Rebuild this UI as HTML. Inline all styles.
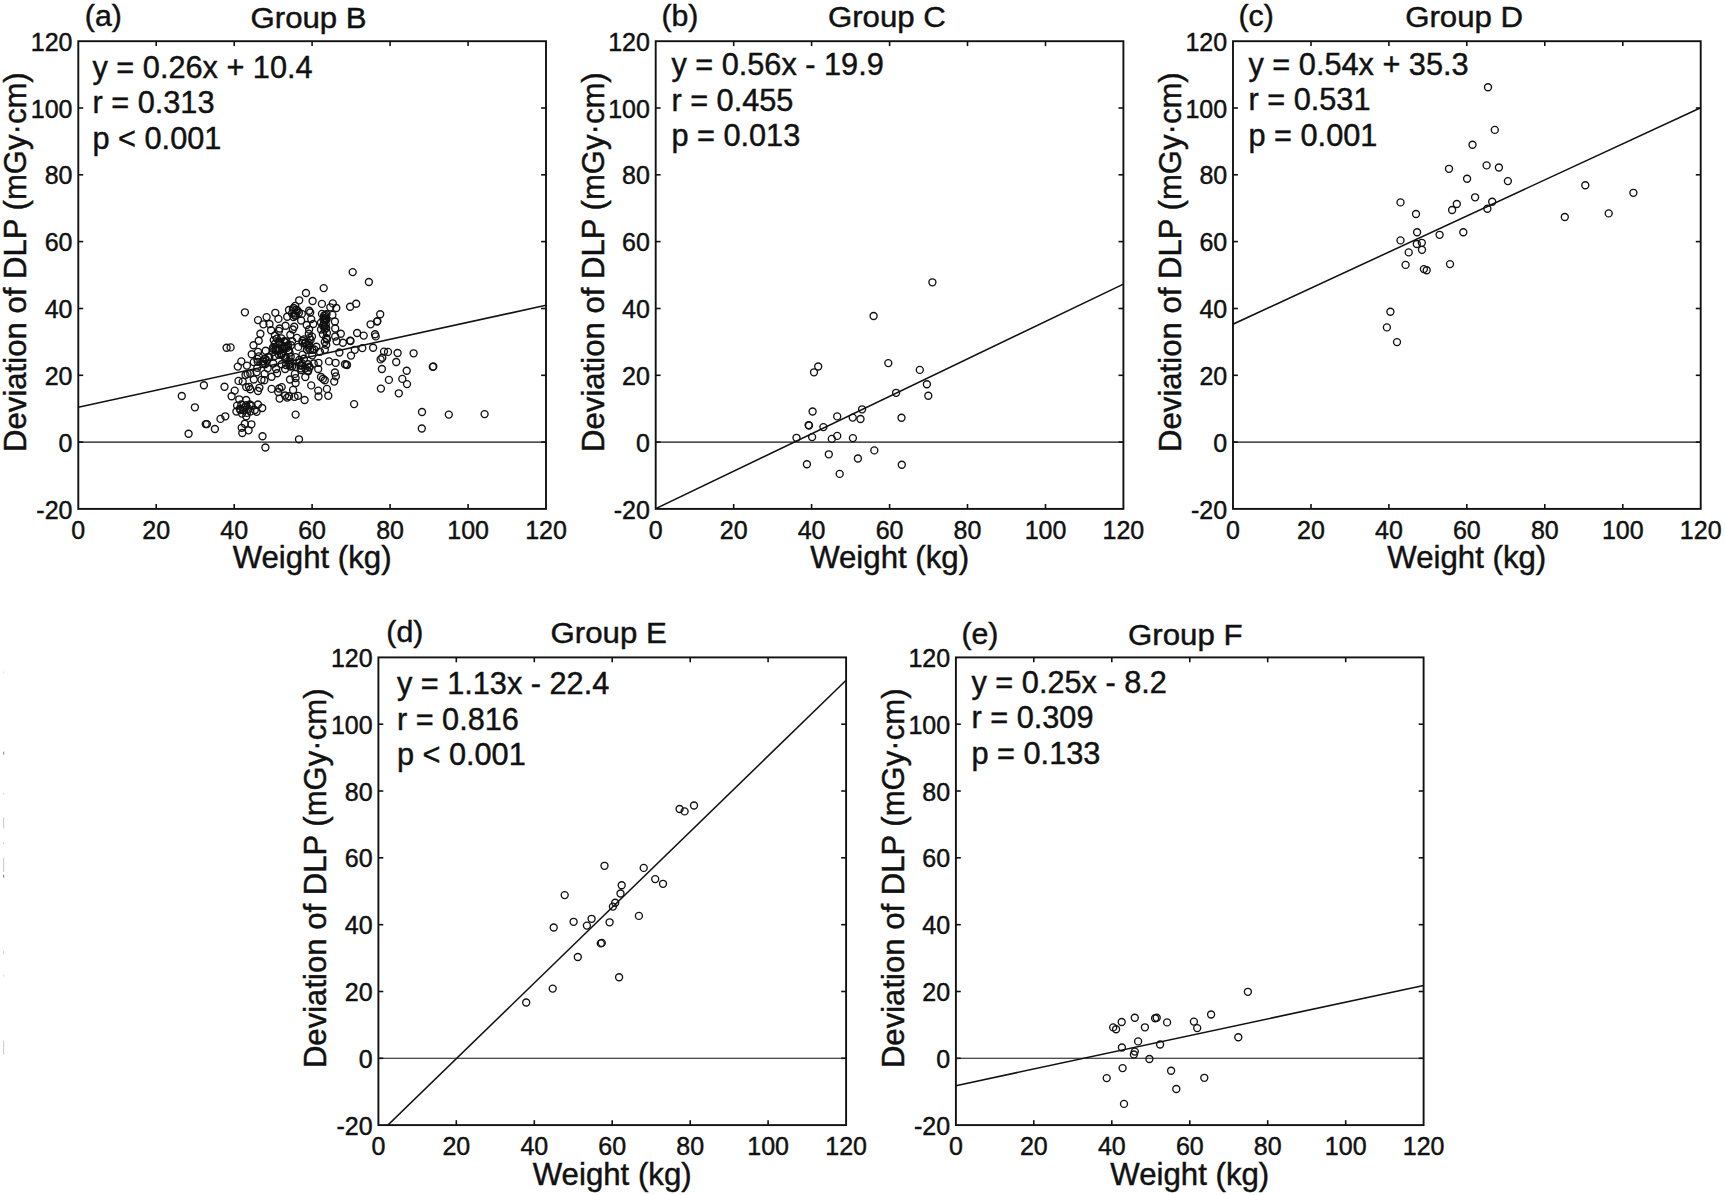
<!DOCTYPE html>
<html><head><meta charset="utf-8"><title>Deviation of DLP vs Weight</title>
<style>
html,body{margin:0;padding:0;background:#fff;}
svg{display:block;}
text{font-family:"Liberation Sans",sans-serif;fill:#111;stroke:#111;stroke-width:0.45px;}
.tk{font-size:25px;}
.lb{font-size:31.2px;}
.an{font-size:30.7px;}
.yl{font-size:30.5px;}
.ti{font-size:30px;}
.pl{font-size:30.3px;}
.bx{fill:none;stroke:#111;stroke-width:1.9;}
.t{stroke:#111;stroke-width:1.6;}
.z{stroke:#111;stroke-width:1.1;}
.r{stroke:#111;stroke-width:1.55;}
.p circle{fill:none;stroke:#111;stroke-width:1.35;}
</style></head><body>
<svg width="1725" height="1195" viewBox="0 0 1725 1195">
<rect width="1725" height="1195" fill="#fff"/>

<g id="panel-a">
<clipPath id="cpa"><rect x="78.3" y="41.2" width="467.7" height="467.7"/></clipPath>
<line class="z" x1="78.3" y1="442.1" x2="546.0" y2="442.1"/>
<line class="r" clip-path="url(#cpa)" x1="78.3" y1="407.3" x2="546.0" y2="305.3"/>
<g class="p">
<circle cx="181.8" cy="396.0" r="3.5"/>
<circle cx="194.9" cy="407.3" r="3.5"/>
<circle cx="188.6" cy="433.7" r="3.5"/>
<circle cx="203.9" cy="385.2" r="3.5"/>
<circle cx="224.5" cy="386.7" r="3.5"/>
<circle cx="205.7" cy="424.1" r="3.5"/>
<circle cx="206.9" cy="424.1" r="3.5"/>
<circle cx="214.9" cy="429.0" r="3.5"/>
<circle cx="220.5" cy="418.9" r="3.5"/>
<circle cx="225.3" cy="416.3" r="3.5"/>
<circle cx="265.4" cy="447.5" r="3.5"/>
<circle cx="354.1" cy="404.1" r="3.5"/>
<circle cx="226.6" cy="347.7" r="3.5"/>
<circle cx="352.7" cy="272.1" r="3.5"/>
<circle cx="368.9" cy="282.0" r="3.5"/>
<circle cx="350.1" cy="306.7" r="3.5"/>
<circle cx="356.2" cy="303.7" r="3.5"/>
<circle cx="380.2" cy="314.2" r="3.5"/>
<circle cx="377.1" cy="321.6" r="3.5"/>
<circle cx="377.4" cy="321.1" r="3.5"/>
<circle cx="370.6" cy="324.3" r="3.5"/>
<circle cx="357.1" cy="333.0" r="3.5"/>
<circle cx="363.7" cy="335.6" r="3.5"/>
<circle cx="375.0" cy="334.2" r="3.5"/>
<circle cx="375.7" cy="336.4" r="3.5"/>
<circle cx="350.1" cy="340.6" r="3.5"/>
<circle cx="350.5" cy="341.0" r="3.5"/>
<circle cx="362.3" cy="348.1" r="3.5"/>
<circle cx="373.1" cy="347.7" r="3.5"/>
<circle cx="354.8" cy="349.8" r="3.5"/>
<circle cx="351.0" cy="355.6" r="3.5"/>
<circle cx="346.6" cy="364.6" r="3.5"/>
<circle cx="347.0" cy="365.0" r="3.5"/>
<circle cx="384.0" cy="351.6" r="3.5"/>
<circle cx="388.0" cy="351.9" r="3.5"/>
<circle cx="397.6" cy="353.0" r="3.5"/>
<circle cx="413.6" cy="353.3" r="3.5"/>
<circle cx="380.6" cy="359.4" r="3.5"/>
<circle cx="382.3" cy="357.7" r="3.5"/>
<circle cx="396.2" cy="362.0" r="3.5"/>
<circle cx="381.9" cy="369.0" r="3.5"/>
<circle cx="406.7" cy="370.7" r="3.5"/>
<circle cx="388.9" cy="379.9" r="3.5"/>
<circle cx="402.3" cy="378.9" r="3.5"/>
<circle cx="407.0" cy="384.1" r="3.5"/>
<circle cx="380.9" cy="388.6" r="3.5"/>
<circle cx="398.8" cy="393.3" r="3.5"/>
<circle cx="432.8" cy="366.9" r="3.5"/>
<circle cx="433.3" cy="366.5" r="3.5"/>
<circle cx="422.0" cy="412.0" r="3.5"/>
<circle cx="448.8" cy="414.6" r="3.5"/>
<circle cx="421.8" cy="428.5" r="3.5"/>
<circle cx="323.7" cy="288.1" r="3.5"/>
<circle cx="306.0" cy="293.0" r="3.5"/>
<circle cx="299.2" cy="300.3" r="3.5"/>
<circle cx="312.6" cy="301.0" r="3.5"/>
<circle cx="321.9" cy="303.9" r="3.5"/>
<circle cx="332.8" cy="303.4" r="3.5"/>
<circle cx="330.3" cy="307.3" r="3.5"/>
<circle cx="336.3" cy="308.0" r="3.5"/>
<circle cx="244.9" cy="312.3" r="3.5"/>
<circle cx="295.2" cy="305.9" r="3.5"/>
<circle cx="289.0" cy="310.0" r="3.5"/>
<circle cx="296.3" cy="309.7" r="3.5"/>
<circle cx="297.7" cy="310.7" r="3.5"/>
<circle cx="309.1" cy="310.7" r="3.5"/>
<circle cx="310.2" cy="312.5" r="3.5"/>
<circle cx="275.3" cy="312.8" r="3.5"/>
<circle cx="322.0" cy="313.9" r="3.5"/>
<circle cx="326.5" cy="314.2" r="3.5"/>
<circle cx="332.4" cy="314.9" r="3.5"/>
<circle cx="266.6" cy="317.1" r="3.5"/>
<circle cx="278.4" cy="318.9" r="3.5"/>
<circle cx="287.2" cy="316.7" r="3.5"/>
<circle cx="294.9" cy="315.6" r="3.5"/>
<circle cx="293.5" cy="317.0" r="3.5"/>
<circle cx="301.8" cy="313.9" r="3.5"/>
<circle cx="301.1" cy="320.5" r="3.5"/>
<circle cx="311.2" cy="319.1" r="3.5"/>
<circle cx="324.8" cy="319.1" r="3.5"/>
<circle cx="326.2" cy="319.8" r="3.5"/>
<circle cx="334.9" cy="321.5" r="3.5"/>
<circle cx="258.0" cy="320.1" r="3.5"/>
<circle cx="263.4" cy="324.3" r="3.5"/>
<circle cx="269.5" cy="324.0" r="3.5"/>
<circle cx="285.5" cy="325.7" r="3.5"/>
<circle cx="279.6" cy="328.5" r="3.5"/>
<circle cx="278.9" cy="330.9" r="3.5"/>
<circle cx="294.2" cy="326.7" r="3.5"/>
<circle cx="292.8" cy="329.5" r="3.5"/>
<circle cx="306.7" cy="325.0" r="3.5"/>
<circle cx="313.3" cy="324.0" r="3.5"/>
<circle cx="309.1" cy="329.5" r="3.5"/>
<circle cx="321.0" cy="322.6" r="3.5"/>
<circle cx="325.8" cy="324.7" r="3.5"/>
<circle cx="326.2" cy="328.1" r="3.5"/>
<circle cx="335.2" cy="328.5" r="3.5"/>
<circle cx="321.0" cy="329.5" r="3.5"/>
<circle cx="271.1" cy="330.2" r="3.5"/>
<circle cx="260.4" cy="333.7" r="3.5"/>
<circle cx="290.3" cy="334.7" r="3.5"/>
<circle cx="297.0" cy="337.9" r="3.5"/>
<circle cx="276.8" cy="338.6" r="3.5"/>
<circle cx="308.8" cy="333.7" r="3.5"/>
<circle cx="309.5" cy="337.9" r="3.5"/>
<circle cx="326.9" cy="333.0" r="3.5"/>
<circle cx="326.2" cy="337.9" r="3.5"/>
<circle cx="335.2" cy="336.5" r="3.5"/>
<circle cx="340.8" cy="333.7" r="3.5"/>
<circle cx="258.7" cy="340.7" r="3.5"/>
<circle cx="253.5" cy="345.2" r="3.5"/>
<circle cx="284.4" cy="342.0" r="3.5"/>
<circle cx="292.1" cy="341.3" r="3.5"/>
<circle cx="302.5" cy="340.7" r="3.5"/>
<circle cx="308.8" cy="342.7" r="3.5"/>
<circle cx="324.8" cy="342.0" r="3.5"/>
<circle cx="326.2" cy="344.8" r="3.5"/>
<circle cx="336.6" cy="341.3" r="3.5"/>
<circle cx="342.9" cy="342.7" r="3.5"/>
<circle cx="265.7" cy="350.7" r="3.5"/>
<circle cx="258.0" cy="351.8" r="3.5"/>
<circle cx="251.7" cy="354.2" r="3.5"/>
<circle cx="276.1" cy="349.0" r="3.5"/>
<circle cx="283.7" cy="347.6" r="3.5"/>
<circle cx="288.6" cy="350.4" r="3.5"/>
<circle cx="298.3" cy="346.9" r="3.5"/>
<circle cx="308.1" cy="347.6" r="3.5"/>
<circle cx="312.3" cy="349.7" r="3.5"/>
<circle cx="319.9" cy="351.8" r="3.5"/>
<circle cx="324.8" cy="349.7" r="3.5"/>
<circle cx="339.4" cy="352.5" r="3.5"/>
<circle cx="265.0" cy="358.7" r="3.5"/>
<circle cx="274.7" cy="356.0" r="3.5"/>
<circle cx="281.7" cy="354.6" r="3.5"/>
<circle cx="285.1" cy="358.0" r="3.5"/>
<circle cx="290.7" cy="356.7" r="3.5"/>
<circle cx="302.5" cy="354.6" r="3.5"/>
<circle cx="303.9" cy="358.7" r="3.5"/>
<circle cx="312.3" cy="355.3" r="3.5"/>
<circle cx="237.8" cy="366.6" r="3.5"/>
<circle cx="241.3" cy="361.4" r="3.5"/>
<circle cx="246.9" cy="365.6" r="3.5"/>
<circle cx="253.8" cy="362.1" r="3.5"/>
<circle cx="257.3" cy="367.7" r="3.5"/>
<circle cx="265.0" cy="364.2" r="3.5"/>
<circle cx="267.7" cy="368.3" r="3.5"/>
<circle cx="273.3" cy="363.5" r="3.5"/>
<circle cx="276.1" cy="369.0" r="3.5"/>
<circle cx="281.7" cy="364.2" r="3.5"/>
<circle cx="285.1" cy="369.0" r="3.5"/>
<circle cx="290.7" cy="363.5" r="3.5"/>
<circle cx="295.6" cy="367.0" r="3.5"/>
<circle cx="301.1" cy="365.6" r="3.5"/>
<circle cx="305.3" cy="368.3" r="3.5"/>
<circle cx="308.1" cy="364.2" r="3.5"/>
<circle cx="313.7" cy="363.5" r="3.5"/>
<circle cx="318.5" cy="362.8" r="3.5"/>
<circle cx="318.2" cy="369.0" r="3.5"/>
<circle cx="329.0" cy="361.4" r="3.5"/>
<circle cx="335.6" cy="362.8" r="3.5"/>
<circle cx="345.0" cy="364.2" r="3.5"/>
<circle cx="247.6" cy="373.9" r="3.5"/>
<circle cx="245.5" cy="375.0" r="3.5"/>
<circle cx="250.3" cy="373.6" r="3.5"/>
<circle cx="256.6" cy="372.2" r="3.5"/>
<circle cx="264.6" cy="373.9" r="3.5"/>
<circle cx="271.6" cy="376.7" r="3.5"/>
<circle cx="277.1" cy="373.2" r="3.5"/>
<circle cx="294.9" cy="373.9" r="3.5"/>
<circle cx="295.6" cy="378.1" r="3.5"/>
<circle cx="305.3" cy="377.0" r="3.5"/>
<circle cx="321.0" cy="377.0" r="3.5"/>
<circle cx="323.0" cy="378.8" r="3.5"/>
<circle cx="324.8" cy="380.2" r="3.5"/>
<circle cx="334.9" cy="372.5" r="3.5"/>
<circle cx="335.9" cy="376.3" r="3.5"/>
<circle cx="334.2" cy="381.6" r="3.5"/>
<circle cx="238.5" cy="380.9" r="3.5"/>
<circle cx="242.7" cy="381.6" r="3.5"/>
<circle cx="253.8" cy="379.5" r="3.5"/>
<circle cx="261.5" cy="379.8" r="3.5"/>
<circle cx="264.3" cy="380.2" r="3.5"/>
<circle cx="290.0" cy="379.5" r="3.5"/>
<circle cx="295.6" cy="383.0" r="3.5"/>
<circle cx="249.0" cy="386.8" r="3.5"/>
<circle cx="250.3" cy="389.2" r="3.5"/>
<circle cx="246.2" cy="387.1" r="3.5"/>
<circle cx="259.4" cy="387.8" r="3.5"/>
<circle cx="258.0" cy="391.0" r="3.5"/>
<circle cx="271.6" cy="388.9" r="3.5"/>
<circle cx="279.2" cy="388.5" r="3.5"/>
<circle cx="281.7" cy="387.1" r="3.5"/>
<circle cx="278.2" cy="392.0" r="3.5"/>
<circle cx="293.1" cy="389.9" r="3.5"/>
<circle cx="311.2" cy="385.4" r="3.5"/>
<circle cx="318.2" cy="390.6" r="3.5"/>
<circle cx="318.5" cy="396.5" r="3.5"/>
<circle cx="326.9" cy="388.9" r="3.5"/>
<circle cx="328.3" cy="395.8" r="3.5"/>
<circle cx="234.7" cy="390.6" r="3.5"/>
<circle cx="231.6" cy="396.2" r="3.5"/>
<circle cx="239.2" cy="399.3" r="3.5"/>
<circle cx="246.2" cy="400.0" r="3.5"/>
<circle cx="279.6" cy="398.6" r="3.5"/>
<circle cx="285.1" cy="395.5" r="3.5"/>
<circle cx="287.2" cy="397.6" r="3.5"/>
<circle cx="289.0" cy="396.2" r="3.5"/>
<circle cx="294.5" cy="396.9" r="3.5"/>
<circle cx="298.0" cy="395.8" r="3.5"/>
<circle cx="304.6" cy="400.0" r="3.5"/>
<circle cx="237.1" cy="405.6" r="3.5"/>
<circle cx="241.3" cy="404.5" r="3.5"/>
<circle cx="246.2" cy="405.2" r="3.5"/>
<circle cx="249.7" cy="404.5" r="3.5"/>
<circle cx="258.0" cy="404.5" r="3.5"/>
<circle cx="262.2" cy="408.0" r="3.5"/>
<circle cx="256.6" cy="411.8" r="3.5"/>
<circle cx="236.4" cy="411.5" r="3.5"/>
<circle cx="239.9" cy="408.7" r="3.5"/>
<circle cx="244.1" cy="410.1" r="3.5"/>
<circle cx="248.3" cy="408.7" r="3.5"/>
<circle cx="242.0" cy="413.6" r="3.5"/>
<circle cx="246.9" cy="412.9" r="3.5"/>
<circle cx="250.3" cy="411.5" r="3.5"/>
<circle cx="246.2" cy="416.3" r="3.5"/>
<circle cx="244.8" cy="407.3" r="3.5"/>
<circle cx="244.8" cy="423.7" r="3.5"/>
<circle cx="251.4" cy="424.3" r="3.5"/>
<circle cx="241.7" cy="427.8" r="3.5"/>
<circle cx="248.6" cy="430.3" r="3.5"/>
<circle cx="242.3" cy="433.0" r="3.5"/>
<circle cx="262.5" cy="436.2" r="3.5"/>
<circle cx="295.6" cy="414.6" r="3.5"/>
<circle cx="299.0" cy="439.3" r="3.5"/>
<circle cx="484.6" cy="414.1" r="3.5"/>
<circle cx="230.6" cy="347.4" r="3.5"/>
<circle cx="279.2" cy="342.7" r="3.5"/>
<circle cx="286.4" cy="341.3" r="3.5"/>
<circle cx="283.9" cy="346.6" r="3.5"/>
<circle cx="273.4" cy="349.1" r="3.5"/>
<circle cx="272.9" cy="347.8" r="3.5"/>
<circle cx="281.4" cy="354.9" r="3.5"/>
<circle cx="274.8" cy="344.0" r="3.5"/>
<circle cx="285.9" cy="357.1" r="3.5"/>
<circle cx="284.8" cy="347.1" r="3.5"/>
<circle cx="291.0" cy="345.2" r="3.5"/>
<circle cx="278.9" cy="354.7" r="3.5"/>
<circle cx="276.1" cy="350.5" r="3.5"/>
<circle cx="286.2" cy="346.7" r="3.5"/>
<circle cx="284.2" cy="341.1" r="3.5"/>
<circle cx="287.1" cy="347.7" r="3.5"/>
<circle cx="279.0" cy="350.5" r="3.5"/>
<circle cx="282.1" cy="345.4" r="3.5"/>
<circle cx="289.6" cy="352.6" r="3.5"/>
<circle cx="277.5" cy="350.3" r="3.5"/>
<circle cx="283.7" cy="355.8" r="3.5"/>
<circle cx="288.1" cy="345.2" r="3.5"/>
<circle cx="281.3" cy="353.6" r="3.5"/>
<circle cx="275.4" cy="348.8" r="3.5"/>
<circle cx="273.0" cy="352.0" r="3.5"/>
<circle cx="288.9" cy="350.3" r="3.5"/>
<circle cx="269.3" cy="357.2" r="3.5"/>
<circle cx="266.7" cy="360.5" r="3.5"/>
<circle cx="265.1" cy="358.9" r="3.5"/>
<circle cx="263.6" cy="361.4" r="3.5"/>
<circle cx="257.8" cy="361.8" r="3.5"/>
<circle cx="268.5" cy="356.8" r="3.5"/>
<circle cx="262.4" cy="361.4" r="3.5"/>
<circle cx="257.3" cy="358.9" r="3.5"/>
<circle cx="258.8" cy="356.4" r="3.5"/>
<circle cx="262.5" cy="363.9" r="3.5"/>
<circle cx="302.5" cy="342.9" r="3.5"/>
<circle cx="310.0" cy="349.8" r="3.5"/>
<circle cx="314.3" cy="349.5" r="3.5"/>
<circle cx="305.7" cy="342.3" r="3.5"/>
<circle cx="306.9" cy="349.8" r="3.5"/>
<circle cx="304.0" cy="339.4" r="3.5"/>
<circle cx="304.9" cy="343.5" r="3.5"/>
<circle cx="310.6" cy="339.9" r="3.5"/>
<circle cx="307.1" cy="344.8" r="3.5"/>
<circle cx="316.4" cy="346.7" r="3.5"/>
<circle cx="309.4" cy="345.6" r="3.5"/>
<circle cx="312.0" cy="336.6" r="3.5"/>
<circle cx="326.9" cy="339.0" r="3.5"/>
<circle cx="326.8" cy="339.5" r="3.5"/>
<circle cx="324.4" cy="326.8" r="3.5"/>
<circle cx="322.9" cy="334.3" r="3.5"/>
<circle cx="323.4" cy="319.2" r="3.5"/>
<circle cx="324.1" cy="315.7" r="3.5"/>
<circle cx="322.9" cy="325.6" r="3.5"/>
<circle cx="325.5" cy="318.8" r="3.5"/>
<circle cx="323.7" cy="325.1" r="3.5"/>
<circle cx="324.2" cy="317.9" r="3.5"/>
<circle cx="324.7" cy="329.5" r="3.5"/>
<circle cx="324.1" cy="322.5" r="3.5"/>
<circle cx="326.5" cy="319.2" r="3.5"/>
<circle cx="325.0" cy="318.7" r="3.5"/>
<circle cx="325.1" cy="314.9" r="3.5"/>
<circle cx="295.6" cy="315.5" r="3.5"/>
<circle cx="298.9" cy="312.7" r="3.5"/>
<circle cx="292.9" cy="309.4" r="3.5"/>
<circle cx="292.0" cy="313.4" r="3.5"/>
<circle cx="295.6" cy="313.5" r="3.5"/>
<circle cx="293.6" cy="307.9" r="3.5"/>
<circle cx="308.2" cy="371.2" r="3.5"/>
<circle cx="307.8" cy="370.5" r="3.5"/>
<circle cx="300.7" cy="368.3" r="3.5"/>
<circle cx="302.3" cy="363.4" r="3.5"/>
<circle cx="301.1" cy="370.0" r="3.5"/>
<circle cx="309.5" cy="367.6" r="3.5"/>
<circle cx="309.5" cy="366.7" r="3.5"/>
<circle cx="300.6" cy="365.4" r="3.5"/>
<circle cx="274.9" cy="335.5" r="3.5"/>
<circle cx="279.1" cy="342.5" r="3.5"/>
<circle cx="281.3" cy="338.3" r="3.5"/>
<circle cx="279.4" cy="341.5" r="3.5"/>
<circle cx="273.7" cy="340.1" r="3.5"/>
<circle cx="254.8" cy="410.0" r="3.5"/>
<circle cx="251.6" cy="405.7" r="3.5"/>
<circle cx="240.2" cy="410.0" r="3.5"/>
<circle cx="289.1" cy="364.7" r="3.5"/>
<circle cx="299.3" cy="359.9" r="3.5"/>
<circle cx="290.2" cy="366.5" r="3.5"/>
<circle cx="295.4" cy="357.1" r="3.5"/>
<circle cx="286.1" cy="365.0" r="3.5"/>
<circle cx="289.4" cy="361.7" r="3.5"/>
<circle cx="299.3" cy="362.9" r="3.5"/>
<circle cx="292.2" cy="366.3" r="3.5"/>
</g>
<rect class="bx" x="78.3" y="41.2" width="467.7" height="467.7"/>
<line class="t" x1="156.2" y1="508.9" x2="156.2" y2="504.0"/>
<line class="t" x1="156.2" y1="41.2" x2="156.2" y2="46.1"/>
<line class="t" x1="234.2" y1="508.9" x2="234.2" y2="504.0"/>
<line class="t" x1="234.2" y1="41.2" x2="234.2" y2="46.1"/>
<line class="t" x1="312.1" y1="508.9" x2="312.1" y2="504.0"/>
<line class="t" x1="312.1" y1="41.2" x2="312.1" y2="46.1"/>
<line class="t" x1="390.1" y1="508.9" x2="390.1" y2="504.0"/>
<line class="t" x1="390.1" y1="41.2" x2="390.1" y2="46.1"/>
<line class="t" x1="468.1" y1="508.9" x2="468.1" y2="504.0"/>
<line class="t" x1="468.1" y1="41.2" x2="468.1" y2="46.1"/>
<line class="t" x1="78.3" y1="442.1" x2="83.2" y2="442.1"/>
<line class="t" x1="546.0" y1="442.1" x2="541.1" y2="442.1"/>
<line class="t" x1="78.3" y1="375.3" x2="83.2" y2="375.3"/>
<line class="t" x1="546.0" y1="375.3" x2="541.1" y2="375.3"/>
<line class="t" x1="78.3" y1="308.5" x2="83.2" y2="308.5"/>
<line class="t" x1="546.0" y1="308.5" x2="541.1" y2="308.5"/>
<line class="t" x1="78.3" y1="241.6" x2="83.2" y2="241.6"/>
<line class="t" x1="546.0" y1="241.6" x2="541.1" y2="241.6"/>
<line class="t" x1="78.3" y1="174.8" x2="83.2" y2="174.8"/>
<line class="t" x1="546.0" y1="174.8" x2="541.1" y2="174.8"/>
<line class="t" x1="78.3" y1="108.0" x2="83.2" y2="108.0"/>
<line class="t" x1="546.0" y1="108.0" x2="541.1" y2="108.0"/>
<text class="tk" text-anchor="middle" x="78.3" y="538.6">0</text>
<text class="tk" text-anchor="middle" x="156.2" y="538.6">20</text>
<text class="tk" text-anchor="middle" x="234.2" y="538.6">40</text>
<text class="tk" text-anchor="middle" x="312.1" y="538.6">60</text>
<text class="tk" text-anchor="middle" x="390.1" y="538.6">80</text>
<text class="tk" text-anchor="middle" x="468.1" y="538.6">100</text>
<text class="tk" text-anchor="middle" x="546.0" y="538.6">120</text>
<text class="tk" text-anchor="end" x="72.5" y="518.5">-20</text>
<text class="tk" text-anchor="end" x="72.5" y="451.7">0</text>
<text class="tk" text-anchor="end" x="72.5" y="384.9">20</text>
<text class="tk" text-anchor="end" x="72.5" y="318.1">40</text>
<text class="tk" text-anchor="end" x="72.5" y="251.2">60</text>
<text class="tk" text-anchor="end" x="72.5" y="184.4">80</text>
<text class="tk" text-anchor="end" x="72.5" y="117.6">100</text>
<text class="tk" text-anchor="end" x="72.5" y="50.8">120</text>
<text class="lb" text-anchor="middle" x="312.1" y="568.4">Weight (kg)</text>
<text class="yl" text-anchor="middle" transform="translate(26.3,262.1) rotate(-90) scale(1.02,1)">Deviation of DLP (mGy·cm)</text>
<text class="ti" transform="translate(250.5,27.5) scale(1.04,1)">Group B</text>
<text class="pl" x="84.8" y="25.5">(a)</text>
<text class="an" x="92.5" y="77.8">y = 0.26x + 10.4</text>
<text class="an" x="92.5" y="113.3">r = 0.313</text>
<text class="an" x="92.5" y="148.8">p &lt; 0.001</text>
</g>
<g id="panel-b">
<clipPath id="cpb"><rect x="655.7" y="41.2" width="467.7" height="467.7"/></clipPath>
<line class="z" x1="655.7" y1="442.1" x2="1123.4" y2="442.1"/>
<line class="r" clip-path="url(#cpb)" x1="655.7" y1="508.6" x2="1123.4" y2="284.1"/>
<g class="p">
<circle cx="932.4" cy="282.3" r="3.5"/>
<circle cx="873.6" cy="316.0" r="3.5"/>
<circle cx="818.2" cy="366.5" r="3.5"/>
<circle cx="814.0" cy="372.3" r="3.5"/>
<circle cx="888.3" cy="363.1" r="3.5"/>
<circle cx="919.8" cy="369.9" r="3.5"/>
<circle cx="926.9" cy="384.2" r="3.5"/>
<circle cx="896.1" cy="392.8" r="3.5"/>
<circle cx="928.3" cy="395.7" r="3.5"/>
<circle cx="812.6" cy="411.5" r="3.5"/>
<circle cx="862.1" cy="409.3" r="3.5"/>
<circle cx="837.2" cy="416.4" r="3.5"/>
<circle cx="852.7" cy="417.6" r="3.5"/>
<circle cx="860.5" cy="419.0" r="3.5"/>
<circle cx="901.5" cy="417.7" r="3.5"/>
<circle cx="808.6" cy="425.1" r="3.5"/>
<circle cx="809.0" cy="425.5" r="3.5"/>
<circle cx="823.4" cy="427.1" r="3.5"/>
<circle cx="796.5" cy="437.8" r="3.5"/>
<circle cx="812.1" cy="437.1" r="3.5"/>
<circle cx="831.8" cy="438.9" r="3.5"/>
<circle cx="837.2" cy="435.9" r="3.5"/>
<circle cx="852.9" cy="438.1" r="3.5"/>
<circle cx="874.3" cy="450.4" r="3.5"/>
<circle cx="828.8" cy="454.3" r="3.5"/>
<circle cx="857.9" cy="458.5" r="3.5"/>
<circle cx="806.9" cy="464.2" r="3.5"/>
<circle cx="901.8" cy="464.7" r="3.5"/>
<circle cx="839.7" cy="473.9" r="3.5"/>
</g>
<rect class="bx" x="655.7" y="41.2" width="467.7" height="467.7"/>
<line class="t" x1="733.7" y1="508.9" x2="733.7" y2="504.0"/>
<line class="t" x1="733.7" y1="41.2" x2="733.7" y2="46.1"/>
<line class="t" x1="811.6" y1="508.9" x2="811.6" y2="504.0"/>
<line class="t" x1="811.6" y1="41.2" x2="811.6" y2="46.1"/>
<line class="t" x1="889.6" y1="508.9" x2="889.6" y2="504.0"/>
<line class="t" x1="889.6" y1="41.2" x2="889.6" y2="46.1"/>
<line class="t" x1="967.5" y1="508.9" x2="967.5" y2="504.0"/>
<line class="t" x1="967.5" y1="41.2" x2="967.5" y2="46.1"/>
<line class="t" x1="1045.5" y1="508.9" x2="1045.5" y2="504.0"/>
<line class="t" x1="1045.5" y1="41.2" x2="1045.5" y2="46.1"/>
<line class="t" x1="655.7" y1="442.1" x2="660.6" y2="442.1"/>
<line class="t" x1="1123.4" y1="442.1" x2="1118.5" y2="442.1"/>
<line class="t" x1="655.7" y1="375.3" x2="660.6" y2="375.3"/>
<line class="t" x1="1123.4" y1="375.3" x2="1118.5" y2="375.3"/>
<line class="t" x1="655.7" y1="308.5" x2="660.6" y2="308.5"/>
<line class="t" x1="1123.4" y1="308.5" x2="1118.5" y2="308.5"/>
<line class="t" x1="655.7" y1="241.6" x2="660.6" y2="241.6"/>
<line class="t" x1="1123.4" y1="241.6" x2="1118.5" y2="241.6"/>
<line class="t" x1="655.7" y1="174.8" x2="660.6" y2="174.8"/>
<line class="t" x1="1123.4" y1="174.8" x2="1118.5" y2="174.8"/>
<line class="t" x1="655.7" y1="108.0" x2="660.6" y2="108.0"/>
<line class="t" x1="1123.4" y1="108.0" x2="1118.5" y2="108.0"/>
<text class="tk" text-anchor="middle" x="655.7" y="538.6">0</text>
<text class="tk" text-anchor="middle" x="733.7" y="538.6">20</text>
<text class="tk" text-anchor="middle" x="811.6" y="538.6">40</text>
<text class="tk" text-anchor="middle" x="889.6" y="538.6">60</text>
<text class="tk" text-anchor="middle" x="967.5" y="538.6">80</text>
<text class="tk" text-anchor="middle" x="1045.5" y="538.6">100</text>
<text class="tk" text-anchor="middle" x="1123.4" y="538.6">120</text>
<text class="tk" text-anchor="end" x="649.9" y="518.5">-20</text>
<text class="tk" text-anchor="end" x="649.9" y="451.7">0</text>
<text class="tk" text-anchor="end" x="649.9" y="384.9">20</text>
<text class="tk" text-anchor="end" x="649.9" y="318.1">40</text>
<text class="tk" text-anchor="end" x="649.9" y="251.2">60</text>
<text class="tk" text-anchor="end" x="649.9" y="184.4">80</text>
<text class="tk" text-anchor="end" x="649.9" y="117.6">100</text>
<text class="tk" text-anchor="end" x="649.9" y="50.8">120</text>
<text class="lb" text-anchor="middle" x="889.6" y="568.4">Weight (kg)</text>
<text class="yl" text-anchor="middle" transform="translate(603.7,262.1) rotate(-90) scale(1.02,1)">Deviation of DLP (mGy·cm)</text>
<text class="ti" transform="translate(827.9,26.9) scale(1.04,1)">Group C</text>
<text class="pl" x="661.4" y="25.5">(b)</text>
<text class="an" x="671.4" y="75.0">y = 0.56x - 19.9</text>
<text class="an" x="671.4" y="110.5">r = 0.455</text>
<text class="an" x="671.4" y="145.9">p = 0.013</text>
</g>
<g id="panel-c">
<clipPath id="cpc"><rect x="1233.0" y="41.2" width="467.7" height="467.7"/></clipPath>
<line class="z" x1="1233.0" y1="442.1" x2="1700.7" y2="442.1"/>
<line class="r" clip-path="url(#cpc)" x1="1233.0" y1="324.2" x2="1700.7" y2="107.7"/>
<g class="p">
<circle cx="1488.0" cy="87.2" r="3.5"/>
<circle cx="1494.8" cy="129.9" r="3.5"/>
<circle cx="1472.5" cy="144.7" r="3.5"/>
<circle cx="1449.0" cy="168.8" r="3.5"/>
<circle cx="1486.6" cy="165.4" r="3.5"/>
<circle cx="1498.9" cy="167.5" r="3.5"/>
<circle cx="1467.1" cy="178.7" r="3.5"/>
<circle cx="1507.9" cy="181.1" r="3.5"/>
<circle cx="1475.1" cy="197.3" r="3.5"/>
<circle cx="1492.2" cy="201.7" r="3.5"/>
<circle cx="1400.5" cy="202.4" r="3.5"/>
<circle cx="1456.8" cy="204.0" r="3.5"/>
<circle cx="1452.1" cy="210.0" r="3.5"/>
<circle cx="1487.4" cy="208.7" r="3.5"/>
<circle cx="1416.0" cy="214.0" r="3.5"/>
<circle cx="1417.1" cy="232.2" r="3.5"/>
<circle cx="1439.6" cy="234.8" r="3.5"/>
<circle cx="1463.3" cy="232.2" r="3.5"/>
<circle cx="1400.5" cy="240.4" r="3.5"/>
<circle cx="1416.8" cy="244.0" r="3.5"/>
<circle cx="1421.8" cy="242.8" r="3.5"/>
<circle cx="1422.0" cy="249.8" r="3.5"/>
<circle cx="1408.7" cy="252.4" r="3.5"/>
<circle cx="1405.6" cy="264.9" r="3.5"/>
<circle cx="1450.0" cy="264.1" r="3.5"/>
<circle cx="1423.9" cy="269.1" r="3.5"/>
<circle cx="1426.7" cy="270.2" r="3.5"/>
<circle cx="1390.4" cy="311.7" r="3.5"/>
<circle cx="1386.9" cy="327.4" r="3.5"/>
<circle cx="1397.0" cy="342.1" r="3.5"/>
<circle cx="1585.3" cy="185.2" r="3.5"/>
<circle cx="1633.4" cy="192.8" r="3.5"/>
<circle cx="1608.7" cy="213.4" r="3.5"/>
<circle cx="1564.8" cy="217.0" r="3.5"/>
</g>
<rect class="bx" x="1233.0" y="41.2" width="467.7" height="467.7"/>
<line class="t" x1="1311.0" y1="508.9" x2="1311.0" y2="504.0"/>
<line class="t" x1="1311.0" y1="41.2" x2="1311.0" y2="46.1"/>
<line class="t" x1="1388.9" y1="508.9" x2="1388.9" y2="504.0"/>
<line class="t" x1="1388.9" y1="41.2" x2="1388.9" y2="46.1"/>
<line class="t" x1="1466.8" y1="508.9" x2="1466.8" y2="504.0"/>
<line class="t" x1="1466.8" y1="41.2" x2="1466.8" y2="46.1"/>
<line class="t" x1="1544.8" y1="508.9" x2="1544.8" y2="504.0"/>
<line class="t" x1="1544.8" y1="41.2" x2="1544.8" y2="46.1"/>
<line class="t" x1="1622.8" y1="508.9" x2="1622.8" y2="504.0"/>
<line class="t" x1="1622.8" y1="41.2" x2="1622.8" y2="46.1"/>
<line class="t" x1="1233.0" y1="442.1" x2="1237.9" y2="442.1"/>
<line class="t" x1="1700.7" y1="442.1" x2="1695.8" y2="442.1"/>
<line class="t" x1="1233.0" y1="375.3" x2="1237.9" y2="375.3"/>
<line class="t" x1="1700.7" y1="375.3" x2="1695.8" y2="375.3"/>
<line class="t" x1="1233.0" y1="308.5" x2="1237.9" y2="308.5"/>
<line class="t" x1="1700.7" y1="308.5" x2="1695.8" y2="308.5"/>
<line class="t" x1="1233.0" y1="241.6" x2="1237.9" y2="241.6"/>
<line class="t" x1="1700.7" y1="241.6" x2="1695.8" y2="241.6"/>
<line class="t" x1="1233.0" y1="174.8" x2="1237.9" y2="174.8"/>
<line class="t" x1="1700.7" y1="174.8" x2="1695.8" y2="174.8"/>
<line class="t" x1="1233.0" y1="108.0" x2="1237.9" y2="108.0"/>
<line class="t" x1="1700.7" y1="108.0" x2="1695.8" y2="108.0"/>
<text class="tk" text-anchor="middle" x="1233.0" y="538.6">0</text>
<text class="tk" text-anchor="middle" x="1311.0" y="538.6">20</text>
<text class="tk" text-anchor="middle" x="1388.9" y="538.6">40</text>
<text class="tk" text-anchor="middle" x="1466.8" y="538.6">60</text>
<text class="tk" text-anchor="middle" x="1544.8" y="538.6">80</text>
<text class="tk" text-anchor="middle" x="1622.8" y="538.6">100</text>
<text class="tk" text-anchor="middle" x="1700.7" y="538.6">120</text>
<text class="tk" text-anchor="end" x="1227.2" y="518.5">-20</text>
<text class="tk" text-anchor="end" x="1227.2" y="451.7">0</text>
<text class="tk" text-anchor="end" x="1227.2" y="384.9">20</text>
<text class="tk" text-anchor="end" x="1227.2" y="318.1">40</text>
<text class="tk" text-anchor="end" x="1227.2" y="251.2">60</text>
<text class="tk" text-anchor="end" x="1227.2" y="184.4">80</text>
<text class="tk" text-anchor="end" x="1227.2" y="117.6">100</text>
<text class="tk" text-anchor="end" x="1227.2" y="50.8">120</text>
<text class="lb" text-anchor="middle" x="1466.8" y="568.4">Weight (kg)</text>
<text class="yl" text-anchor="middle" transform="translate(1181.0,262.1) rotate(-90) scale(1.02,1)">Deviation of DLP (mGy·cm)</text>
<text class="ti" transform="translate(1405.2,26.9) scale(1.04,1)">Group D</text>
<text class="pl" x="1238.4" y="25.5">(c)</text>
<text class="an" x="1248.5" y="74.8">y = 0.54x + 35.3</text>
<text class="an" x="1248.5" y="110.3">r = 0.531</text>
<text class="an" x="1248.5" y="145.8">p = 0.001</text>
</g>
<g id="panel-d">
<clipPath id="cpd"><rect x="378.4" y="657.4" width="467.7" height="467.7"/></clipPath>
<line class="z" x1="378.4" y1="1058.3" x2="846.1" y2="1058.3"/>
<line class="r" clip-path="url(#cpd)" x1="378.4" y1="1134.3" x2="846.1" y2="680.3"/>
<g class="p">
<circle cx="679.6" cy="809.0" r="3.5"/>
<circle cx="684.6" cy="811.4" r="3.5"/>
<circle cx="694.0" cy="805.5" r="3.5"/>
<circle cx="604.5" cy="865.8" r="3.5"/>
<circle cx="643.7" cy="867.9" r="3.5"/>
<circle cx="655.2" cy="879.1" r="3.5"/>
<circle cx="663.0" cy="883.8" r="3.5"/>
<circle cx="621.7" cy="885.2" r="3.5"/>
<circle cx="620.5" cy="893.5" r="3.5"/>
<circle cx="615.2" cy="902.7" r="3.5"/>
<circle cx="612.9" cy="906.6" r="3.5"/>
<circle cx="564.7" cy="895.1" r="3.5"/>
<circle cx="638.9" cy="915.9" r="3.5"/>
<circle cx="591.6" cy="918.8" r="3.5"/>
<circle cx="573.6" cy="921.8" r="3.5"/>
<circle cx="586.9" cy="925.6" r="3.5"/>
<circle cx="609.6" cy="922.3" r="3.5"/>
<circle cx="553.7" cy="927.5" r="3.5"/>
<circle cx="600.8" cy="943.4" r="3.5"/>
<circle cx="601.8" cy="942.9" r="3.5"/>
<circle cx="577.8" cy="957.0" r="3.5"/>
<circle cx="619.1" cy="977.2" r="3.5"/>
<circle cx="552.7" cy="988.6" r="3.5"/>
<circle cx="526.2" cy="1002.5" r="3.5"/>
</g>
<rect class="bx" x="378.4" y="657.4" width="467.7" height="467.7"/>
<line class="t" x1="456.3" y1="1125.1" x2="456.3" y2="1120.2"/>
<line class="t" x1="456.3" y1="657.4" x2="456.3" y2="662.3"/>
<line class="t" x1="534.3" y1="1125.1" x2="534.3" y2="1120.2"/>
<line class="t" x1="534.3" y1="657.4" x2="534.3" y2="662.3"/>
<line class="t" x1="612.2" y1="1125.1" x2="612.2" y2="1120.2"/>
<line class="t" x1="612.2" y1="657.4" x2="612.2" y2="662.3"/>
<line class="t" x1="690.2" y1="1125.1" x2="690.2" y2="1120.2"/>
<line class="t" x1="690.2" y1="657.4" x2="690.2" y2="662.3"/>
<line class="t" x1="768.1" y1="1125.1" x2="768.1" y2="1120.2"/>
<line class="t" x1="768.1" y1="657.4" x2="768.1" y2="662.3"/>
<line class="t" x1="378.4" y1="1058.3" x2="383.3" y2="1058.3"/>
<line class="t" x1="846.1" y1="1058.3" x2="841.2" y2="1058.3"/>
<line class="t" x1="378.4" y1="991.5" x2="383.3" y2="991.5"/>
<line class="t" x1="846.1" y1="991.5" x2="841.2" y2="991.5"/>
<line class="t" x1="378.4" y1="924.7" x2="383.3" y2="924.7"/>
<line class="t" x1="846.1" y1="924.7" x2="841.2" y2="924.7"/>
<line class="t" x1="378.4" y1="857.8" x2="383.3" y2="857.8"/>
<line class="t" x1="846.1" y1="857.8" x2="841.2" y2="857.8"/>
<line class="t" x1="378.4" y1="791.0" x2="383.3" y2="791.0"/>
<line class="t" x1="846.1" y1="791.0" x2="841.2" y2="791.0"/>
<line class="t" x1="378.4" y1="724.2" x2="383.3" y2="724.2"/>
<line class="t" x1="846.1" y1="724.2" x2="841.2" y2="724.2"/>
<text class="tk" text-anchor="middle" x="378.4" y="1154.8">0</text>
<text class="tk" text-anchor="middle" x="456.3" y="1154.8">20</text>
<text class="tk" text-anchor="middle" x="534.3" y="1154.8">40</text>
<text class="tk" text-anchor="middle" x="612.2" y="1154.8">60</text>
<text class="tk" text-anchor="middle" x="690.2" y="1154.8">80</text>
<text class="tk" text-anchor="middle" x="768.1" y="1154.8">100</text>
<text class="tk" text-anchor="middle" x="846.1" y="1154.8">120</text>
<text class="tk" text-anchor="end" x="372.6" y="1134.7">-20</text>
<text class="tk" text-anchor="end" x="372.6" y="1067.9">0</text>
<text class="tk" text-anchor="end" x="372.6" y="1001.1">20</text>
<text class="tk" text-anchor="end" x="372.6" y="934.3">40</text>
<text class="tk" text-anchor="end" x="372.6" y="867.4">60</text>
<text class="tk" text-anchor="end" x="372.6" y="800.6">80</text>
<text class="tk" text-anchor="end" x="372.6" y="733.8">100</text>
<text class="tk" text-anchor="end" x="372.6" y="667.0">120</text>
<text class="lb" text-anchor="middle" x="612.2" y="1184.6">Weight (kg)</text>
<text class="yl" text-anchor="middle" transform="translate(326.4,878.3) rotate(-90) scale(1.02,1)">Deviation of DLP (mGy·cm)</text>
<text class="ti" transform="translate(550.6,643.0) scale(1.04,1)">Group E</text>
<text class="pl" x="386.3" y="641.7">(d)</text>
<text class="an" x="396.9" y="694.4">y = 1.13x - 22.4</text>
<text class="an" x="396.9" y="729.9">r = 0.816</text>
<text class="an" x="396.9" y="765.4">p &lt; 0.001</text>
</g>
<g id="panel-e">
<clipPath id="cpe"><rect x="955.9" y="657.4" width="467.7" height="467.7"/></clipPath>
<line class="z" x1="955.9" y1="1058.3" x2="1423.6" y2="1058.3"/>
<line class="r" clip-path="url(#cpe)" x1="955.9" y1="1085.7" x2="1423.6" y2="985.5"/>
<g class="p">
<circle cx="1247.9" cy="991.8" r="3.5"/>
<circle cx="1211.1" cy="1014.5" r="3.5"/>
<circle cx="1134.8" cy="1017.7" r="3.5"/>
<circle cx="1155.1" cy="1018.2" r="3.5"/>
<circle cx="1156.7" cy="1017.7" r="3.5"/>
<circle cx="1121.7" cy="1022.0" r="3.5"/>
<circle cx="1167.1" cy="1022.4" r="3.5"/>
<circle cx="1193.9" cy="1021.6" r="3.5"/>
<circle cx="1197.2" cy="1028.1" r="3.5"/>
<circle cx="1113.2" cy="1027.4" r="3.5"/>
<circle cx="1116.1" cy="1029.2" r="3.5"/>
<circle cx="1144.9" cy="1027.3" r="3.5"/>
<circle cx="1238.3" cy="1037.2" r="3.5"/>
<circle cx="1138.1" cy="1041.4" r="3.5"/>
<circle cx="1121.9" cy="1047.5" r="3.5"/>
<circle cx="1160.1" cy="1044.5" r="3.5"/>
<circle cx="1134.8" cy="1051.6" r="3.5"/>
<circle cx="1133.9" cy="1054.5" r="3.5"/>
<circle cx="1149.4" cy="1059.0" r="3.5"/>
<circle cx="1122.6" cy="1068.1" r="3.5"/>
<circle cx="1171.1" cy="1070.7" r="3.5"/>
<circle cx="1106.7" cy="1078.1" r="3.5"/>
<circle cx="1204.3" cy="1077.8" r="3.5"/>
<circle cx="1176.3" cy="1089.0" r="3.5"/>
<circle cx="1124.0" cy="1103.9" r="3.5"/>
</g>
<rect class="bx" x="955.9" y="657.4" width="467.7" height="467.7"/>
<line class="t" x1="1033.8" y1="1125.1" x2="1033.8" y2="1120.2"/>
<line class="t" x1="1033.8" y1="657.4" x2="1033.8" y2="662.3"/>
<line class="t" x1="1111.8" y1="1125.1" x2="1111.8" y2="1120.2"/>
<line class="t" x1="1111.8" y1="657.4" x2="1111.8" y2="662.3"/>
<line class="t" x1="1189.8" y1="1125.1" x2="1189.8" y2="1120.2"/>
<line class="t" x1="1189.8" y1="657.4" x2="1189.8" y2="662.3"/>
<line class="t" x1="1267.7" y1="1125.1" x2="1267.7" y2="1120.2"/>
<line class="t" x1="1267.7" y1="657.4" x2="1267.7" y2="662.3"/>
<line class="t" x1="1345.7" y1="1125.1" x2="1345.7" y2="1120.2"/>
<line class="t" x1="1345.7" y1="657.4" x2="1345.7" y2="662.3"/>
<line class="t" x1="955.9" y1="1058.3" x2="960.8" y2="1058.3"/>
<line class="t" x1="1423.6" y1="1058.3" x2="1418.7" y2="1058.3"/>
<line class="t" x1="955.9" y1="991.5" x2="960.8" y2="991.5"/>
<line class="t" x1="1423.6" y1="991.5" x2="1418.7" y2="991.5"/>
<line class="t" x1="955.9" y1="924.7" x2="960.8" y2="924.7"/>
<line class="t" x1="1423.6" y1="924.7" x2="1418.7" y2="924.7"/>
<line class="t" x1="955.9" y1="857.8" x2="960.8" y2="857.8"/>
<line class="t" x1="1423.6" y1="857.8" x2="1418.7" y2="857.8"/>
<line class="t" x1="955.9" y1="791.0" x2="960.8" y2="791.0"/>
<line class="t" x1="1423.6" y1="791.0" x2="1418.7" y2="791.0"/>
<line class="t" x1="955.9" y1="724.2" x2="960.8" y2="724.2"/>
<line class="t" x1="1423.6" y1="724.2" x2="1418.7" y2="724.2"/>
<text class="tk" text-anchor="middle" x="955.9" y="1154.8">0</text>
<text class="tk" text-anchor="middle" x="1033.8" y="1154.8">20</text>
<text class="tk" text-anchor="middle" x="1111.8" y="1154.8">40</text>
<text class="tk" text-anchor="middle" x="1189.8" y="1154.8">60</text>
<text class="tk" text-anchor="middle" x="1267.7" y="1154.8">80</text>
<text class="tk" text-anchor="middle" x="1345.7" y="1154.8">100</text>
<text class="tk" text-anchor="middle" x="1423.6" y="1154.8">120</text>
<text class="tk" text-anchor="end" x="950.1" y="1134.7">-20</text>
<text class="tk" text-anchor="end" x="950.1" y="1067.9">0</text>
<text class="tk" text-anchor="end" x="950.1" y="1001.1">20</text>
<text class="tk" text-anchor="end" x="950.1" y="934.3">40</text>
<text class="tk" text-anchor="end" x="950.1" y="867.4">60</text>
<text class="tk" text-anchor="end" x="950.1" y="800.6">80</text>
<text class="tk" text-anchor="end" x="950.1" y="733.8">100</text>
<text class="tk" text-anchor="end" x="950.1" y="667.0">120</text>
<text class="lb" text-anchor="middle" x="1189.8" y="1184.6">Weight (kg)</text>
<text class="yl" text-anchor="middle" transform="translate(903.9,878.3) rotate(-90) scale(1.02,1)">Deviation of DLP (mGy·cm)</text>
<text class="ti" transform="translate(1128.1,644.5) scale(1.04,1)">Group F</text>
<text class="pl" x="961.4" y="643.5">(e)</text>
<text class="an" x="971.5" y="692.9">y = 0.25x - 8.2</text>
<text class="an" x="971.5" y="728.4">r = 0.309</text>
<text class="an" x="971.5" y="763.9">p = 0.133</text>
</g>
<g id="edge-artifacts">
<rect x="3" y="671.3" width="1.2" height="2" fill="#e4e4e4"/>
<rect x="3" y="751.7" width="1.2" height="3" fill="#9a9a9a"/>
<rect x="3" y="792.6" width="1.2" height="2" fill="#e0e0e0"/>
<rect x="3" y="817.3" width="1.2" height="11" fill="#cfcfcf"/>
<rect x="3" y="842.2" width="1.2" height="2" fill="#d8d8d8"/>
<rect x="3" y="858.0" width="1.2" height="14" fill="#cfcfcf"/>
<rect x="3" y="874.7" width="1.2" height="3" fill="#8a8a8a"/>
<rect x="3" y="950.6" width="1.2" height="3" fill="#d5d5d5"/>
<rect x="3" y="974.7" width="1.2" height="2" fill="#dcdcdc"/>
<rect x="3" y="1040.7" width="1.2" height="14" fill="#cfcfcf"/>
</g>
</svg></body></html>
